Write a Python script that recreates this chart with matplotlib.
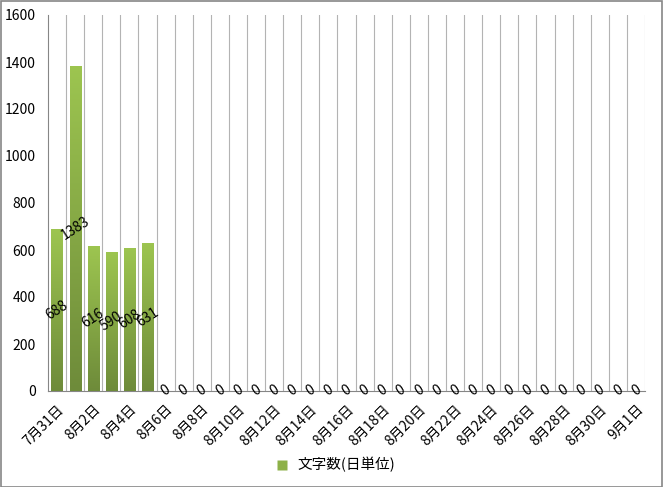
import matplotlib
matplotlib.use("Agg")
import matplotlib.pyplot as plt
import numpy as np
from matplotlib.colors import LinearSegmentedColormap
from matplotlib.patches import Rectangle
from matplotlib.lines import Line2D

plt.rcParams['font.family'] = ['Noto Sans CJK JP', 'DejaVu Sans']

dates = ["7月31日"] + [f"8月{d}日" for d in range(1, 32)] + ["9月1日"]
values = [688, 1383, 616, 590, 608, 631] + [0] * 27
series_name = "文字数(日単位)"
yticks = [0, 200, 400, 600, 800, 1000, 1200, 1400, 1600]

fig = plt.figure(figsize=(6.63, 4.87), dpi=100)
ax = fig.add_axes([48/663, 1 - 391/487, (645-48)/663, (391-15)/487])

n = len(dates)
x = np.arange(n)
cmap = LinearSegmentedColormap.from_list("g", ["#6e8b3a", "#9dc550"])
bars = ax.bar(x, values, width=0.62, color="none", edgecolor="none", zorder=3)
grad = np.linspace(0, 1, 256).reshape(-1, 1)
for b in bars:
    h = b.get_height()
    if h <= 0:
        continue
    x0 = b.get_x()
    w = b.get_width()
    im = ax.imshow(grad, extent=[x0, x0 + w, 0, h], origin="lower",
                   cmap=cmap, aspect="auto", zorder=3)
    im.set_clip_path(b)

for xi, v in zip(x, values):
    ax.text(xi, v / 2, str(v), rotation=33, ha="center", va="center",
            fontsize=10, color="black", zorder=4)

ax.set_xlim(-0.5, n - 0.5)
ax.set_ylim(0, 1600)
ax.set_yticks(yticks)
ax.set_yticklabels([str(t) for t in yticks], fontsize=10)
ax.tick_params(axis="y", length=0, pad=9)

ax.set_xticks(x[::2])
ax.set_xticklabels(dates[::2], rotation=45, ha="right", va="top",
                   rotation_mode="anchor", fontsize=10)
ax.tick_params(axis="x", length=0, pad=8)

for b in np.arange(0.5, n, 1.0):
    ax.axvline(b, color="#b3b3b3", lw=0.8, zorder=1)

for s in ["top", "right"]:
    ax.spines[s].set_visible(False)
ax.spines["left"].set_color("#868686")
ax.spines["bottom"].set_color("#868686")

handle = Line2D([], [], marker="s", linestyle="none", markersize=7,
                markerfacecolor="#8db148", markeredgecolor="none")
fig.legend([handle], [series_name], loc="center", bbox_to_anchor=(0.5, 1 - 465/487),
           frameon=False, fontsize=10.5, handletextpad=0.1)

fig.patches.append(Rectangle((0.5/663, 0.5/487), 1 - 1.5/663, 1 - 1.5/487,
                             transform=fig.transFigure, fill=False,
                             edgecolor="#868686", lw=1.2))

fig.savefig("out.png", dpi=100)
